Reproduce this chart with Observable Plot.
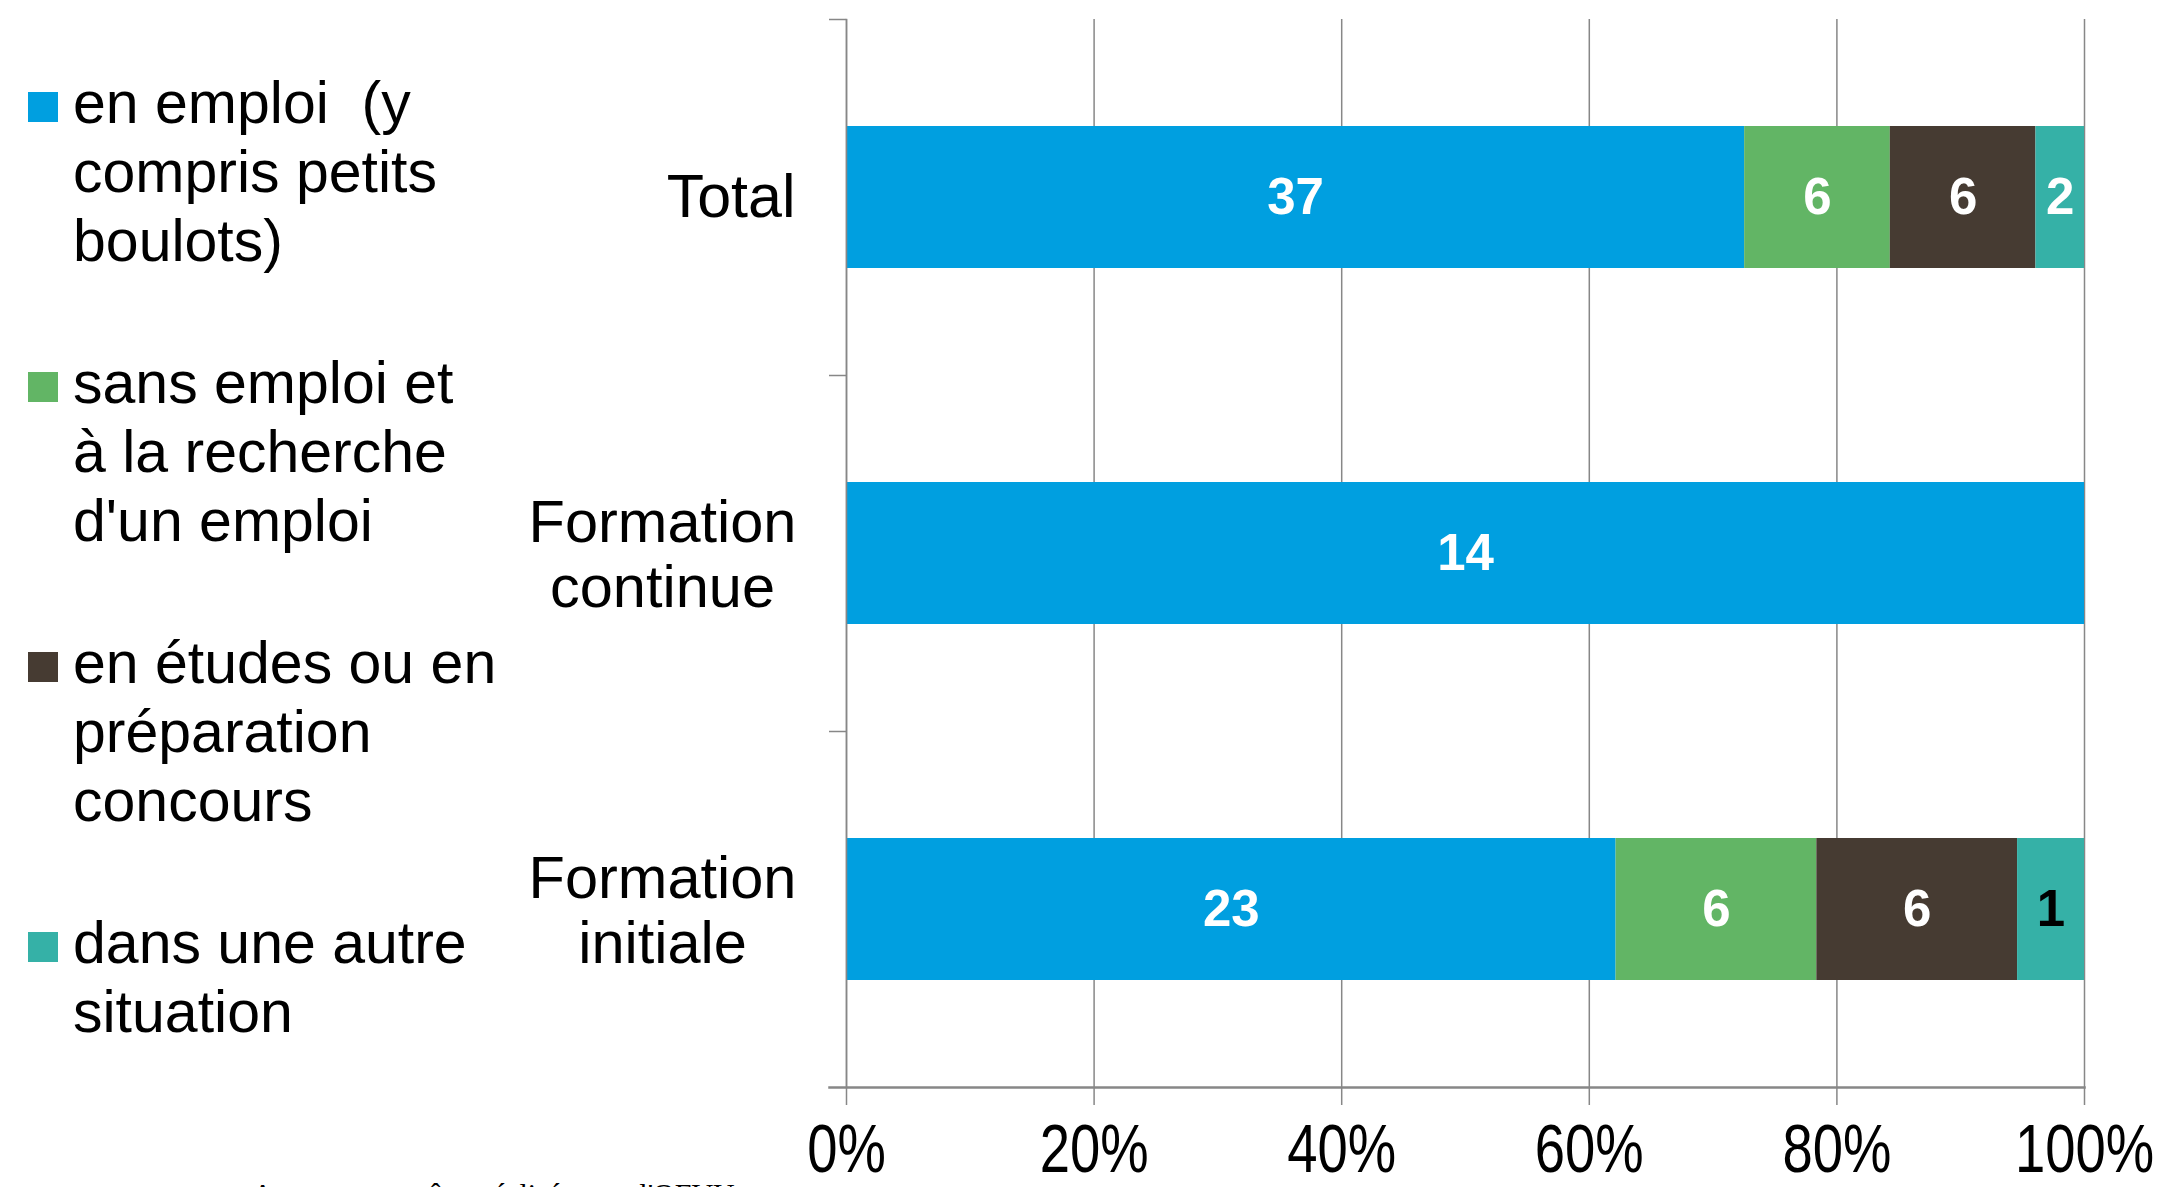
<!DOCTYPE html>
<html>
<head>
<meta charset="utf-8">
<script src="https://cdn.jsdelivr.net/npm/d3@7"></script>
<script src="https://cdn.jsdelivr.net/npm/@observablehq/plot@0.6"></script>
<style>
  html, body { margin: 0; padding: 0; background: #fff; }
  #wrap { position: relative; width: 2159px; height: 1187px; overflow: hidden; background: #fff; }
  #chart { position: absolute; left: 0; top: 0; }
  #legend { position: absolute; left: 28px; top: 69px; display: flex; flex-direction: column; gap: 73px;
            font-family: "Liberation Sans", Arial, sans-serif; font-size: 59px; line-height: 69px; color: #000; }
  .item { position: relative; padding-left: 45px; white-space: pre; }
  .sw { position: absolute; left: 0; top: 23px; width: 30px; height: 30px; }
  #caption { position: absolute; left: 252px; top: 1176px; font-family: "Liberation Serif", "Times New Roman", serif;
             font-size: 30px; line-height: 36px; color: #000; white-space: nowrap; }
</style>
</head>
<body>
<div id="wrap">
  <div id="chart"></div>
  <div id="legend"></div>
  <div id="caption"></div>
</div>
<script>
// ---- Data ----
const categories = ["Total", "Formation continue", "Formation initiale"];
const categoryLabels = ["Total", "Formation\ncontinue", "Formation\ninitiale"];
const series = [
  "en emploi (y compris petits boulots)",
  "sans emploi et à la recherche d'un emploi",
  "en études ou en préparation concours",
  "dans une autre situation"
];
const legendLabels = [
  "en emploi  (y\ncompris petits\nboulots)",
  "sans emploi et\nà la recherche\nd'un emploi",
  "en études ou en\npréparation\nconcours",
  "dans une autre\nsituation"
];
const colors = ["#009FE0", "#62B565", "#463B32", "#35B1A7"];
// counts per category (Total, Formation continue, Formation initiale)
const enEmploi   = [37, 14, 23];
const sansEmploi = [6, 0, 6];
const enEtudes   = [6, 0, 6];
const autre      = [2, 0, 2];
// labels as printed on the bars for "dans une autre situation"
const autreLabels = ["2", "", "1"];
const xTicks = [0, 0.2, 0.4, 0.6, 0.8, 1];
const captionText = "Auteurs : enquêtes réalisées par l'OFVU";

// ---- Build table ----
const seriesValues = [enEmploi, sansEmploi, enEtudes, autre];
const data = categories.flatMap((c, i) => series.map((s, j) => ({
  cat: c,
  series: s,
  value: seriesValues[j][i],
  label: j === 3 ? autreLabels[i] : String(seriesValues[j][i])
})));
const labelOf = c => categoryLabels[categories.indexOf(c)];

const W = 2159, H = 1187;
const gray = "#878787";

const chart = Plot.plot({
  width: W,
  height: H,
  marginLeft: 846,
  marginRight: 75,
  marginTop: 19,
  marginBottom: 100,
  style: { fontFamily: "'Liberation Sans', Arial, sans-serif", background: "white", overflow: "visible" },
  x: { domain: [0, 1], axis: null },
  y: { domain: categories, paddingInner: 0.6, paddingOuter: 0.3, axis: null },
  color: { domain: series, range: colors },
  marks: [
    Plot.gridX(xTicks, { stroke: gray, strokeOpacity: 1, strokeWidth: 1.5 }),
    Plot.barX(data, Plot.stackX({ x: "value", y: "cat", fill: "series", offset: "normalize", order: series })),
    Plot.text(data.filter(d => d.value > 0), Plot.stackX({
      x: "value", y: "cat", z: "series", offset: "normalize", order: series,
      text: "label",
      fill: d => (d.cat === "Formation initiale" && d.series === series[3]) ? "black" : "white",
      fontSize: 51, fontWeight: "bold"
    })),
    Plot.frame({ anchor: "left", stroke: gray, strokeWidth: 1.5 }),
    Plot.frame({ anchor: "bottom", stroke: gray, strokeWidth: 2.5, insetLeft: -17 }),
    Plot.axisX(xTicks, {
      tickFormat: d3.format(".0%"), tickSize: 18, tickPadding: 18,
      stroke: gray, strokeWidth: 1.5, fill: "black",
      fontSize: 68,
      label: null
    }),
    // tick marks at band boundaries on the category axis
    Plot.axisY(categories, { tickSize: 17, tickFormat: () => "", dy: -178, stroke: gray, strokeWidth: 1.5, label: null }),
    Plot.axisY(["Total"], {
      tickSize: 0, tickPadding: 0, dx: -51, textAnchor: "end",
      tickFormat: labelOf, fontSize: 61, fill: "black", label: null
    }),
    Plot.axisY(["Formation continue", "Formation initiale"], {
      tickSize: 0, tickPadding: 0, dx: -184, textAnchor: "middle",
      tickFormat: labelOf, fontSize: 59.5, lineHeight: 1.1, fill: "black", label: null
    })
  ]
});
document.getElementById("chart").appendChild(chart);

// horizontally condensed x tick labels (as in the reference)
const fmt = d3.format(".0%");
const tickTexts = new Set(xTicks.map(fmt));
chart.querySelectorAll("text").forEach(t => {
  if (!tickTexts.has(t.textContent.trim())) return;
  const tr = t.getAttribute("transform");
  if (tr && /translate/.test(tr)) {
    t.setAttribute("transform", tr + " scale(0.8,1)");
  } else {
    const x = +(t.getAttribute("x") || 0);
    t.setAttribute("transform", `translate(${x},0) scale(0.8,1) translate(${-x},0)` + (tr ? " " + tr : ""));
  }
});

// ---- Legend ----
const legend = document.getElementById("legend");
series.forEach((s, j) => {
  const item = document.createElement("div");
  item.className = "item";
  const sw = document.createElement("div");
  sw.className = "sw";
  sw.style.background = colors[j];
  item.appendChild(sw);
  item.appendChild(document.createTextNode(legendLabels[j]));
  legend.appendChild(item);
});
document.getElementById("caption").textContent = captionText;
</script>
</body>
</html>
